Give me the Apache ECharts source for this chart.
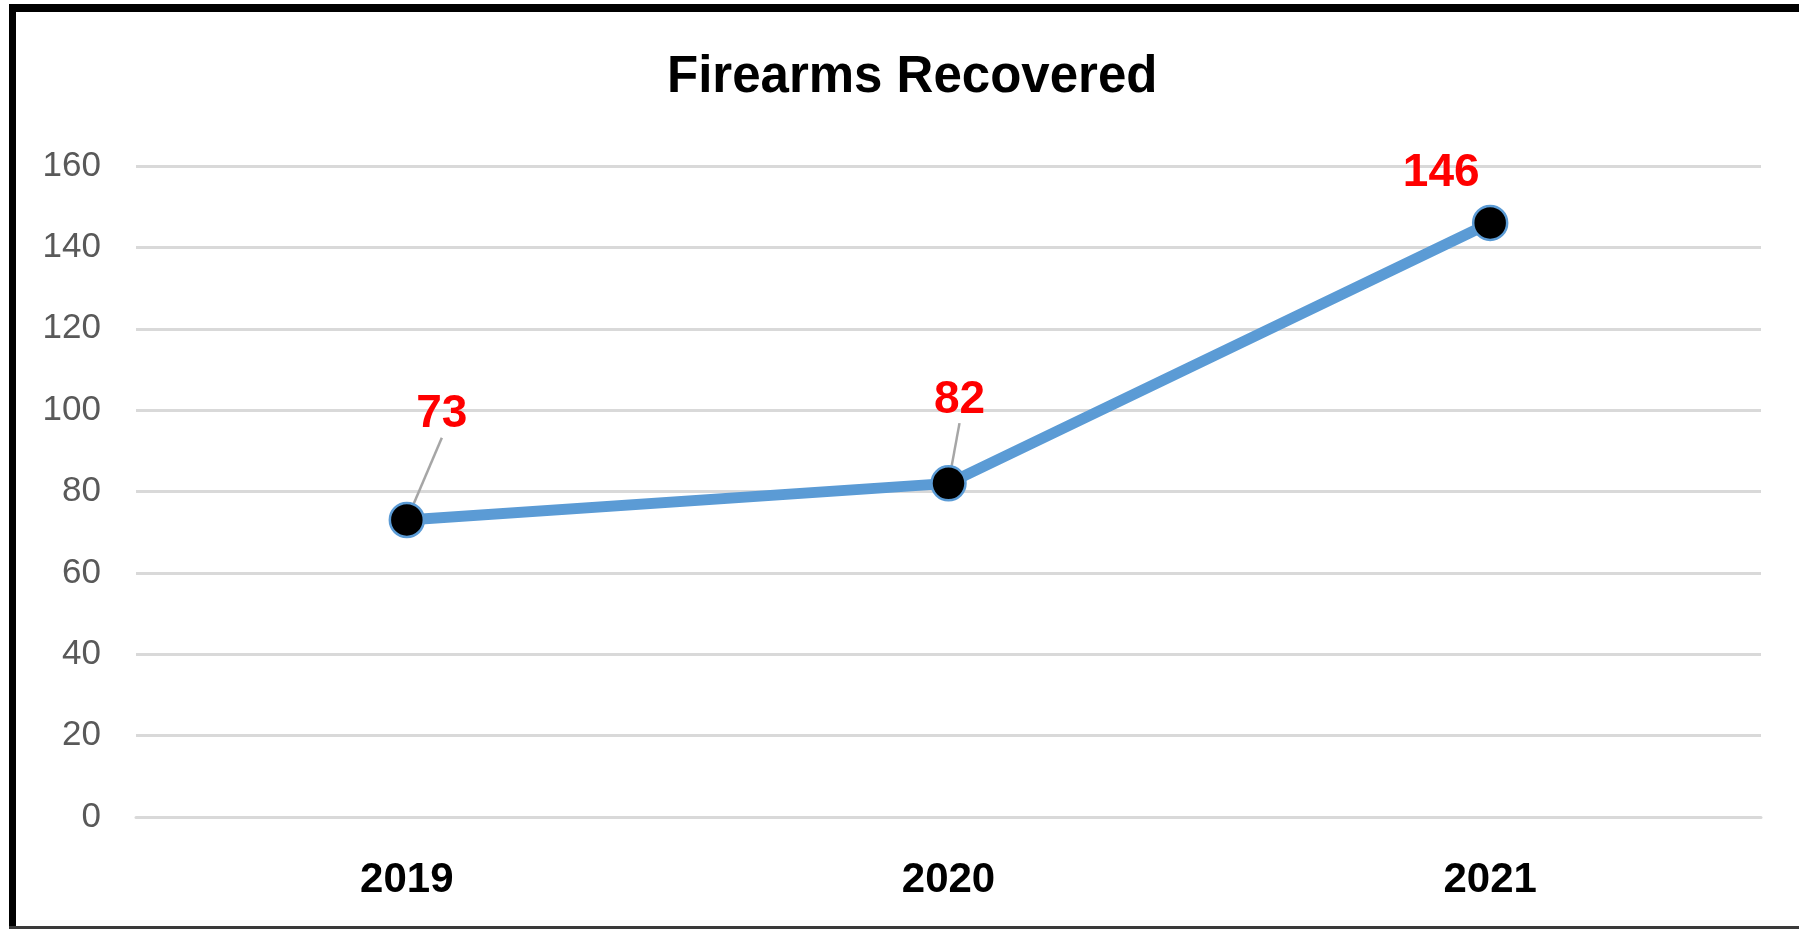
<!DOCTYPE html>
<html>
<head>
<meta charset="utf-8">
<script src="https://cdn.jsdelivr.net/npm/echarts@6/dist/echarts.min.js"></script>
<style>
  html, body { margin: 0; padding: 0; background: #ffffff; }
  #chart { width: 1799px; height: 929px; }
</style>
</head>
<body>
<div id="chart"></div>
<script>
// ---- data ----
const titleText = 'Firearms Recovered';
const categories = ['2019', '2020', '2021'];
const firearmsRecovered = [73, 82, 146];
const yTicks = [0, 20, 40, 60, 80, 100, 120, 140, 160];

// ---- styling (not data) ----
const labelShift = [ { dx: 35, dy: -45, line: true }, { dx: 11, dy: -23, line: true }, { dx: -49, dy: 11, line: false } ];

const chart = echarts.init(document.getElementById('chart'), null, { renderer: 'canvas' });

const seriesData = firearmsRecovered.map((v, i) => ({
  value: v,
  labelLine: { show: labelShift[i].line }
}));

const option = {
  backgroundColor: '#ffffff',
  animation: false,
  title: {
    text: titleText,
    left: 662,
    top: 47,
    textStyle: { fontFamily: 'Liberation Sans', fontWeight: 'bold', fontSize: 51, color: '#000000' }
  },
  grid: { left: 136, right: 38, top: 166, bottom: 112, containLabel: false },
  xAxis: {
    type: 'category',
    data: categories,
    boundaryGap: true,
    axisLine: { show: true, lineStyle: { color: '#D9D9D9', width: 3 } },
    axisTick: { show: false },
    axisLabel: { fontFamily: 'Liberation Sans', fontWeight: 'bold', fontSize: 42, color: '#000000', margin: 42 },
    splitLine: { show: false }
  },
  yAxis: {
    type: 'value',
    min: yTicks[0],
    max: yTicks[yTicks.length - 1],
    interval: yTicks[1] - yTicks[0],
    axisLine: { show: false },
    axisTick: { show: false },
    axisLabel: { fontFamily: 'Liberation Sans', fontSize: 35, color: '#595959', margin: 35 },
    splitLine: { show: true, lineStyle: { color: '#D9D9D9', width: 3 } }
  },
  series: [{
    type: 'line',
    data: seriesData,
    lineStyle: { color: '#5B9BD5', width: 11 },
    symbol: 'circle',
    symbolSize: 34,
    itemStyle: { color: '#000000', borderColor: '#5B9BD5', borderWidth: 2.5 },
    z: 3,
    label: {
      show: true,
      position: 'top',
      distance: 5,
      padding: [0, 0, 14, 0],
      fontFamily: 'Liberation Sans',
      fontWeight: 'bold',
      fontSize: 46,
      color: '#FF0000'
    },
    labelLine: {
      show: true,
      lineStyle: { color: '#A6A6A6', width: 2.5 }
    },
    labelLayout: function (params) {
      const s = labelShift[params.dataIndex];
      return { dx: s.dx, dy: s.dy };
    }
  }],
  graphic: [
    { type: 'rect', shape: { x: 9, y: 4, width: 7, height: 925 }, style: { fill: '#000000' }, silent: true },
    { type: 'rect', shape: { x: 9, y: 4, width: 1790, height: 8 }, style: { fill: '#000000' }, silent: true },
    { type: 'rect', shape: { x: 9, y: 926, width: 1790, height: 3 }, style: { fill: '#3a3a3a' }, silent: true }
  ]
};

chart.setOption(option);
</script>
</body>
</html>
